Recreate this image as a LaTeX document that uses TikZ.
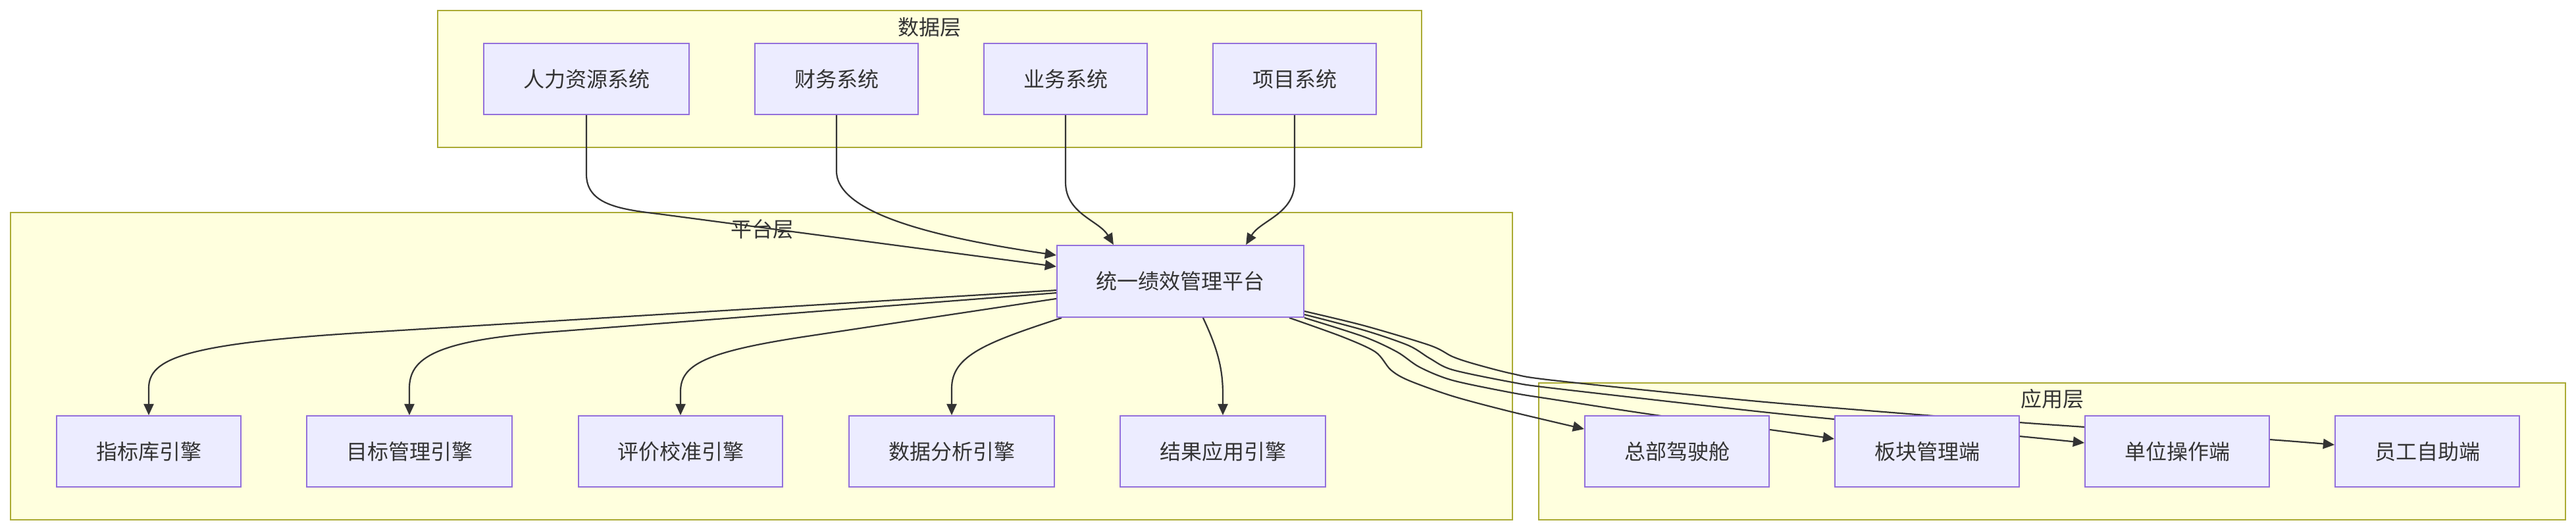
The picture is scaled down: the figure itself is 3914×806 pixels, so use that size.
\documentclass[tikz,border=0pt]{standalone}
\usepackage{fontspec}
\setmainfont{Noto Sans CJK SC}
\usetikzlibrary{arrows.meta}
\definecolor{nfill}{HTML}{ECECFF}
\definecolor{nstroke}{HTML}{9370DB}
\definecolor{cfill}{HTML}{FFFFDE}
\definecolor{cstroke}{HTML}{AAAA33}
\definecolor{txt}{HTML}{333333}
\definecolor{edgecol}{HTML}{333333}
\pgfdeclarelayer{clusters}
\pgfdeclarelayer{edges}
\pgfsetlayers{clusters,edges,main}
\begin{document}
\begin{tikzpicture}[x=0.25pt,y=-0.25pt,
  box/.style={draw=nstroke, fill=nfill, line width=0.5pt, minimum height=27pt, inner sep=0pt, text=txt, font=\fontsize{8pt}{9.6pt}\selectfont},
  cluster/.style={draw=cstroke, fill=cfill, line width=0.5pt},
  ctitle/.style={text=txt, font=\fontsize{8pt}{9.6pt}\selectfont, inner sep=0pt},
  arr/.style={draw=edgecol, line width=0.55pt, -{Triangle[length=4.3pt,width=3.8pt]}},
]
\useasboundingbox (0,0) rectangle (3914,806);

% clusters
\begin{pgfonlayer}{clusters}
\path[cluster] (665,16) rectangle (2160,224);
\path[cluster] (16,323) rectangle (2298,790);
\path[cluster] (2338,582) rectangle (3898,790);
\node[ctitle] (tdata) at (1412,41) {数据层};
\node[ctitle] (tplat) at (1158,348) {平台层};
\node[ctitle] (tapp) at (3118,606) {应用层};
\end{pgfonlayer}

% data layer
\node[box, minimum width=78pt] (hr) at (891,120) {人力资源系统};
\node[box, minimum width=62pt] (fin) at (1271,120) {财务系统};
\node[box, minimum width=62pt] (biz) at (1619,120) {业务系统};
\node[box, minimum width=62pt] (proj) at (1967,120) {项目系统};

% platform
\node[box, minimum width=93.75pt, minimum height=27.25pt] (plat) at (1793.5,427.5) {统一绩效管理平台};
\node[box, minimum width=70pt] (e1) at (226,686) {指标库引擎};
\node[box, minimum width=78pt] (e2) at (622,686) {目标管理引擎};
\node[box, minimum width=77.5pt] (e3) at (1034,686) {评价校准引擎};
\node[box, minimum width=78pt] (e4) at (1446,686) {数据分析引擎};
\node[box, minimum width=78pt] (e5) at (1858,686) {结果应用引擎};

% application
\node[box, minimum width=70pt] (a1) at (2548,686) {总部驾驶舱};
\node[box, minimum width=70pt] (a2) at (2928,686) {板块管理端};
\node[box, minimum width=70pt] (a3) at (3308,686) {单位操作端};
\node[box, minimum width=70pt] (a4) at (3688,686) {员工自助端};

\coordinate (s1) at ([yshift=2.5pt]plat.south east);
\coordinate (s2) at ([yshift=1.25pt]plat.south east);
\coordinate (s3) at (plat.south east);
\coordinate (s4) at ([xshift=-5.75pt]plat.south east);
\coordinate (t1) at ([yshift=8.5pt]a1.west);
\coordinate (t2) at ([yshift=4.75pt]a2.west);
\coordinate (t3) at ([yshift=3.25pt]a3.west);
\coordinate (t4) at ([yshift=2.5pt]a4.west);

\begin{pgfonlayer}{edges}
% data -> platform
\draw[arr] (hr.south) -- (891,265) .. controls (891,310) and (940,318) .. (1000,325) -- ([yshift=5.6pt]plat.west);
\draw[arr] (fin.south) -- (1271,260) .. controls (1271,330) and (1450,365) .. ([yshift=9.9pt]plat.west);
\draw[arr] (biz.south) -- (1619,277) .. controls (1619,325) and (1670,335) .. ([xshift=-25.4pt]plat.north);
\draw[arr] (proj.south) -- (1967,277) .. controls (1967,325) and (1915,335) .. ([xshift=24.9pt]plat.north);
% platform -> engines
\draw[arr] ([yshift=-3.4pt]plat.west) -- (560,505) .. controls (280,522) and (226,545) .. (226,590) -- (e1.north);
\draw[arr] ([yshift=-4.4pt]plat.west) -- (830,505) .. controls (660,518) and (622,545) .. (622,590) -- (e2.north);
\draw[arr] ([yshift=-6.6pt]plat.west) -- (1220,512) .. controls (1070,535) and (1034,555) .. (1034,595) -- (e3.north);
\draw[arr] ([xshift=2pt]plat.south west) .. controls (1500,520) and (1446,540) .. (1446,590) -- (e4.north);
\draw[arr] ([xshift=8.6pt]plat.south) .. controls (1850,530) and (1858,560) .. (1858,600) -- (e5.north);
% platform -> applications
\draw[arr] plot[smooth, tension=0.5] coordinates {(s4) (2040,512) (2090,535) (2113,562) (2140,578) (2207,602) (2293,625) (t1)};
\draw[arr] plot[smooth, tension=0.5] coordinates {(s3) (2073,512) (2123,535) (2157,558) (2207,578) (2298,597) (2360,607) (2524,632) (2689,653) (t2)};
\draw[arr] plot[smooth, tension=0.5] coordinates {(s2) (2073,502) (2140,525) (2173,545) (2207,562) (2298,581) (2360,590) (2650,623) (2787,637) (3068,663) (t3)};
\draw[arr] plot[smooth, tension=0.5] coordinates {(s1) (2073,495) (2173,525) (2207,542) (2240,553) (2298,568) (2360,578) (2650,608) (2850,625) (3068,642) (3168,649) (3448,668) (t4)};
\end{pgfonlayer}
\end{tikzpicture}
\end{document}
